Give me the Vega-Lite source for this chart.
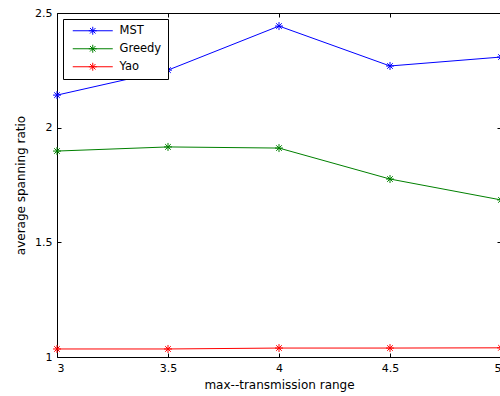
{
  "$schema": "https://vega.github.io/schema/vega-lite/v6.json",
  "autosize": {"type": "none"},
  "padding": {"left": 57, "top": 13, "right": 0, "bottom": 39},
  "width": 444,
  "height": 344,
  "background": "white",
  "config": {
    "view": {"stroke": null},
    "font": "DejaVu Sans",
    "axis": {
      "grid": false,
      "domainColor": "black",
      "domainWidth": 1,
      "tickColor": "black",
      "tickSize": -4,
      "labelFont": "DejaVu Sans",
      "labelFontSize": 11,
      "labelColor": "black",
      "titleFont": "DejaVu Sans",
      "titleFontSize": 12,
      "titleFontWeight": "normal",
      "titleColor": "black"
    },
    "legend": {
      "labelFont": "DejaVu Sans",
      "labelFontSize": 11.5,
      "labelColor": "black"
    }
  },
  "data": {
    "values": [
      {"range": 3, "ratio": 2.142, "method": "MST"},
      {"range": 3.5, "ratio": 2.251, "method": "MST"},
      {"range": 4, "ratio": 2.443, "method": "MST"},
      {"range": 4.5, "ratio": 2.269, "method": "MST"},
      {"range": 5, "ratio": 2.308, "method": "MST"},
      {"range": 3, "ratio": 1.898, "method": "Greedy"},
      {"range": 3.5, "ratio": 1.916, "method": "Greedy"},
      {"range": 4, "ratio": 1.911, "method": "Greedy"},
      {"range": 4.5, "ratio": 1.776, "method": "Greedy"},
      {"range": 5, "ratio": 1.685, "method": "Greedy"},
      {"range": 3, "ratio": 1.035, "method": "Yao"},
      {"range": 3.5, "ratio": 1.035, "method": "Yao"},
      {"range": 4, "ratio": 1.039, "method": "Yao"},
      {"range": 4.5, "ratio": 1.039, "method": "Yao"},
      {"range": 5, "ratio": 1.04, "method": "Yao"}
    ]
  },
  "layer": [
    {
      "mark": {"type": "line", "strokeWidth": 1},
      "encoding": {
        "x": {
          "field": "range", "type": "quantitative",
          "scale": {"domain": [3, 5], "nice": false, "zero": false},
          "axis": {"orient": "bottom", "values": [3, 3.5, 4, 4.5, 5], "format": "~g", "labelPadding": 9, "title": "max--transmission range", "titlePadding": 6}
        },
        "y": {
          "field": "ratio", "type": "quantitative",
          "scale": {"domain": [1, 2.5], "nice": false, "zero": false},
          "axis": {"orient": "left", "values": [1, 1.5, 2, 2.5], "format": "~g", "labelPadding": 9, "title": "average spanning ratio", "titlePadding": 7}
        },
        "color": {
          "field": "method", "type": "nominal",
          "scale": {"domain": ["MST", "Greedy", "Yao"], "range": ["#0000ff", "#008000", "#ff0000"]},
          "legend": {
            "title": null,
            "orient": "none",
            "legendX": 6,
            "legendY": 6,
            "fillColor": "white",
            "strokeColor": "black",
            "padding": 6,
            "cornerRadius": 0,
            "symbolType": "M-0.4,0H7.6M3.6,-0.8V0.8M2.8,0H4.4M3.05,-0.55L4.15,0.55M3.05,0.55L4.15,-0.55",
            "symbolSize": 100,
            "symbolFillColor": "transparent",
            "symbolStrokeWidth": 1,
            "labelOffset": 39,
            "rowPadding": 5
          }
        }
      }
    },
    {
      "mark": {
        "type": "point",
        "shape": "M0,-1V1M-1,0H1M-0.7,-0.7L0.7,0.7M-0.7,0.7L0.7,-0.7",
        "size": 64,
        "filled": false,
        "strokeWidth": 1,
        "opacity": 1
      },
      "encoding": {
        "x": {"field": "range", "type": "quantitative", "axis": null},
        "y": {"field": "ratio", "type": "quantitative", "axis": null},
        "color": {"field": "method", "type": "nominal", "legend": null}
      }
    },
    {
      "mark": {"type": "point", "opacity": 0},
      "encoding": {
        "x": {
          "field": "range", "type": "quantitative",
          "axis": {"orient": "top", "values": [3, 3.5, 4, 4.5, 5], "labels": false, "title": null}
        },
        "y": {
          "field": "ratio", "type": "quantitative",
          "axis": {"orient": "right", "values": [1, 1.5, 2, 2.5], "labels": false, "title": null}
        }
      }
    }
  ],
  "resolve": {"axis": {"x": "independent", "y": "independent"}}
}
